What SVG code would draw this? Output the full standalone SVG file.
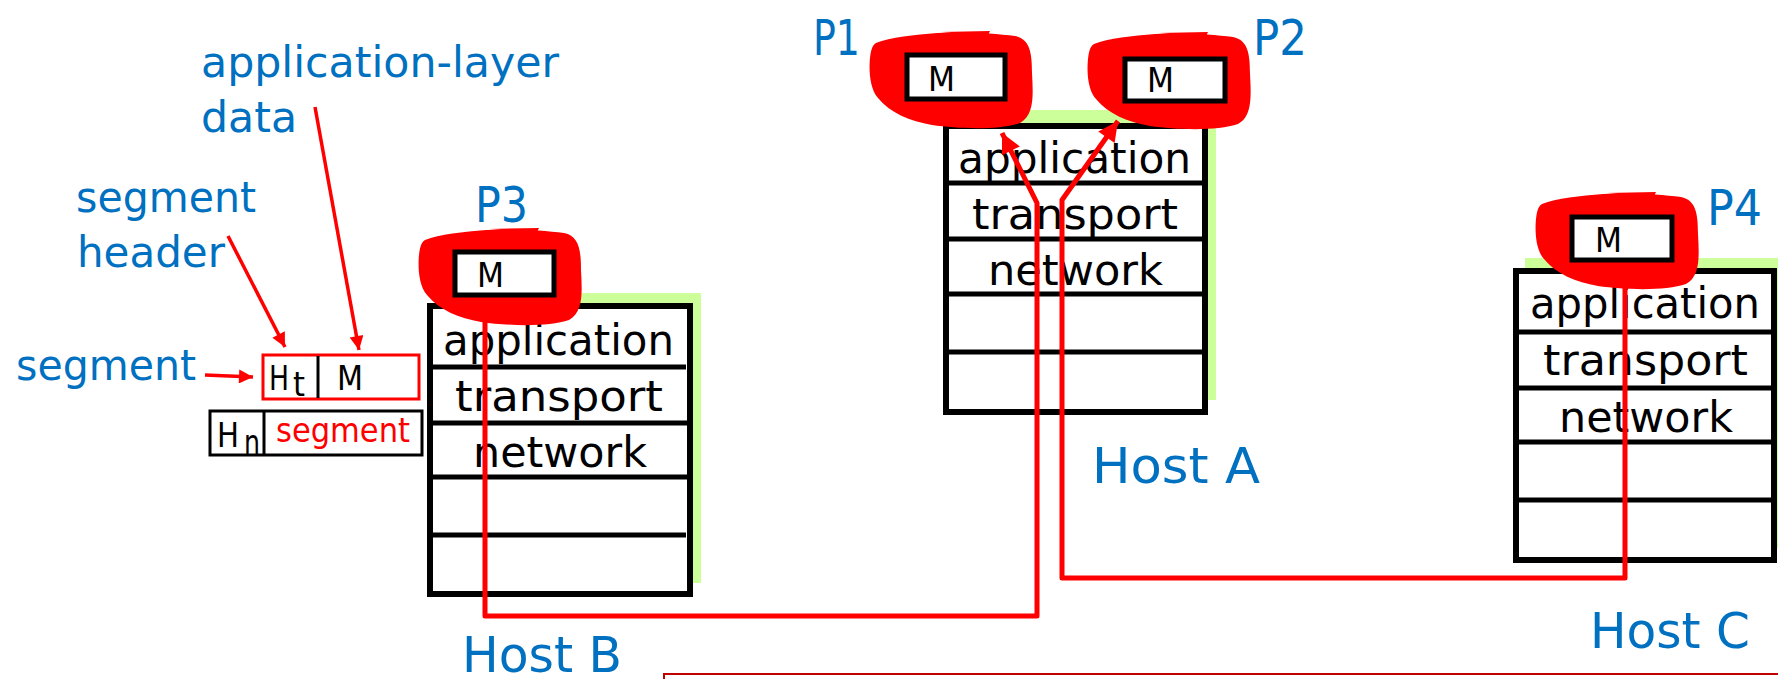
<svg xmlns="http://www.w3.org/2000/svg" xmlns:xlink="http://www.w3.org/1999/xlink" width="1778" height="679" viewBox="0 0 1778 679">
  <style>
    .lbl { font-family: "DejaVu Sans", "Liberation Sans", sans-serif; fill: #0070C0; font-size: 50px; }
    .note { font-family: "DejaVu Sans", "Liberation Sans", sans-serif; fill: #0070C0; font-size: 43px; }
    .layer { font-family: "DejaVu Sans", "Liberation Sans", sans-serif; fill: #000; font-size: 43px; }
    .msg { font-family: "DejaVu Sans", "Liberation Sans", sans-serif; fill: #000; font-size: 33px; }
    .frame { fill: #fff; stroke: #000; stroke-width: 6; }
    .shadow { fill: #CCFF99; }
    .sep { stroke: #000; stroke-width: 5; }
    .blob { fill: #FF0000; }
    .mbox { fill: #fff; stroke: #000; stroke-width: 5; }
    .flow { fill: none; stroke: #FF0000; stroke-width: 5; stroke-linejoin: round; }
    .pointer { fill: none; stroke: #FF0000; stroke-width: 3.5; }
  </style>
  <defs>
    <marker id="head" viewBox="0 0 10 10" refX="10" refY="5" markerWidth="5" markerHeight="4" orient="auto" markerUnits="strokeWidth">
      <path d="M0,0 L10,5 L0,10 z" fill="#FF0000"/>
    </marker>
    <!-- hand-drawn highlight round a message box, ~163 x 95 -->
    <path id="blob" d="M 6 10 C 20 4, 45 2, 67 0 C 95 -1, 125 0, 145 3 C 160 6, 162 20, 162 40 C 163 60, 165 82, 150 90 C 130 97, 90 96, 62 92 C 40 88, 20 80, 8 65 C -1 55, -1 35, 0 25 C 1 15, 3 12, 6 10 Z M 70 -1 L 120 -2 L 118 2 Z"/>
  </defs>

  <rect width="1778" height="679" fill="#fff"/>

  <!-- annotation labels -->
  <g id="annotations">
    <text class="note" x="201" y="77" textLength="358" lengthAdjust="spacingAndGlyphs">application-layer</text>
    <text class="note" x="201" y="132" textLength="96" lengthAdjust="spacingAndGlyphs">data</text>
    <text class="note" x="76" y="212" textLength="180" lengthAdjust="spacingAndGlyphs">segment</text>
    <text class="note" x="77" y="267" textLength="148" lengthAdjust="spacingAndGlyphs">header</text>
    <text class="note" x="16" y="380" textLength="180" lengthAdjust="spacingAndGlyphs">segment</text>
    <line class="pointer" x1="315" y1="107" x2="359" y2="350" marker-end="url(#head)"/>
    <line class="pointer" x1="228" y1="236" x2="285" y2="347" marker-end="url(#head)"/>
    <line class="pointer" x1="205" y1="375" x2="253" y2="377" marker-end="url(#head)"/>
  </g>

  <!-- transport segment: header + message -->
  <g id="segment">
    <rect x="263" y="355" width="156" height="44" fill="#fff" stroke="#FF0000" stroke-width="3"/>
    <line x1="318" y1="356" x2="318" y2="398" stroke="#000" stroke-width="3"/>
    <text class="msg" x="269" y="390" textLength="20" lengthAdjust="spacingAndGlyphs">H</text>
    <text class="msg" x="293" y="396" font-size="24" textLength="12" lengthAdjust="spacingAndGlyphs">t</text>
    <text class="msg" x="337" y="390" textLength="26" lengthAdjust="spacingAndGlyphs">M</text>
  </g>

  <!-- network datagram: header + segment -->
  <g id="datagram">
    <rect x="210" y="411" width="212" height="44" fill="#fff" stroke="#000" stroke-width="3"/>
    <line x1="264" y1="412" x2="264" y2="454" stroke="#000" stroke-width="3"/>
    <text class="msg" x="217" y="447" textLength="22" lengthAdjust="spacingAndGlyphs">H</text>
    <text class="msg" x="244" y="454" font-size="26" textLength="16" lengthAdjust="spacingAndGlyphs">n</text>
    <text class="msg" x="276" y="442" style="fill:#FF0000" textLength="134" lengthAdjust="spacingAndGlyphs">segment</text>
  </g>

  <!-- Host B -->
  <g id="host-b">
    <rect class="shadow" x="437" y="293" width="264" height="290"/>
    <rect class="frame" x="430" y="306" width="260" height="288"/>
    <line class="sep" x1="430" y1="367" x2="686" y2="367"/>
    <line class="sep" x1="430" y1="423" x2="688" y2="423"/>
    <line class="sep" x1="430" y1="477" x2="688" y2="477"/>
    <line class="sep" x1="430" y1="535" x2="686" y2="535"/>
    <text class="layer" x="443" y="355" textLength="231" lengthAdjust="spacingAndGlyphs">application</text>
    <text class="layer" x="455" y="411" textLength="208" lengthAdjust="spacingAndGlyphs">transport</text>
    <text class="layer" x="473" y="467" textLength="174" lengthAdjust="spacingAndGlyphs">network</text>
    <text class="lbl" x="462" y="672" textLength="160" lengthAdjust="spacingAndGlyphs">Host B</text>
  </g>

  <!-- Host A -->
  <g id="host-a">
    <rect class="shadow" x="953" y="110" width="263" height="290"/>
    <rect class="frame" x="946" y="126" width="259" height="286"/>
    <line class="sep" x1="946" y1="183" x2="1203" y2="183"/>
    <line class="sep" x1="946" y1="239" x2="1203" y2="239"/>
    <line class="sep" x1="946" y1="294" x2="1203" y2="294"/>
    <line class="sep" x1="946" y1="352" x2="1202" y2="352"/>
    <text class="layer" x="958" y="173" textLength="233" lengthAdjust="spacingAndGlyphs">application</text>
    <text class="layer" x="972" y="229" textLength="206" lengthAdjust="spacingAndGlyphs">transport</text>
    <text class="layer" x="988" y="285" textLength="175" lengthAdjust="spacingAndGlyphs">network</text>
    <text class="lbl" x="1092" y="483" textLength="168" lengthAdjust="spacingAndGlyphs">Host A</text>
  </g>

  <!-- Host C -->
  <g id="host-c">
    <rect class="shadow" x="1525" y="258" width="260" height="290"/>
    <rect class="frame" x="1516" y="271" width="258" height="289"/>
    <line class="sep" x1="1516" y1="332" x2="1772" y2="332"/>
    <line class="sep" x1="1516" y1="388" x2="1772" y2="388"/>
    <line class="sep" x1="1516" y1="442" x2="1772" y2="442"/>
    <line class="sep" x1="1516" y1="500" x2="1772" y2="500"/>
    <text class="layer" x="1530" y="318" textLength="230" lengthAdjust="spacingAndGlyphs">application</text>
    <text class="layer" x="1543" y="375" textLength="205" lengthAdjust="spacingAndGlyphs">transport</text>
    <text class="layer" x="1559" y="432" textLength="174" lengthAdjust="spacingAndGlyphs">network</text>
    <text class="lbl" x="1590" y="648" textLength="160" lengthAdjust="spacingAndGlyphs">Host C</text>
  </g>

  <!-- processes with their messages -->
  <g id="p3">
    <use xlink:href="#blob" href="#blob" class="blob" transform="translate(419,230)"/>
    <rect class="mbox" x="455" y="252" width="99" height="43"/>
    <text class="msg" x="477" y="287" textLength="27" lengthAdjust="spacingAndGlyphs">M</text>
    <text class="lbl" x="475" y="222" textLength="53" lengthAdjust="spacingAndGlyphs">P3</text>
  </g>
  <g id="p1">
    <use xlink:href="#blob" href="#blob" class="blob" transform="translate(870,33)"/>
    <rect class="mbox" x="907" y="55" width="98" height="44"/>
    <text class="msg" x="928" y="91" textLength="27" lengthAdjust="spacingAndGlyphs">M</text>
    <text class="lbl" x="813" y="55" textLength="47" lengthAdjust="spacingAndGlyphs">P1</text>
  </g>
  <g id="p2">
    <use xlink:href="#blob" href="#blob" class="blob" transform="translate(1088,34)"/>
    <rect class="mbox" x="1125" y="59" width="100" height="42"/>
    <text class="msg" x="1147" y="92" textLength="27" lengthAdjust="spacingAndGlyphs">M</text>
    <text class="lbl" x="1253" y="55" textLength="54" lengthAdjust="spacingAndGlyphs">P2</text>
  </g>
  <g id="p4">
    <use xlink:href="#blob" href="#blob" class="blob" transform="translate(1536,194)"/>
    <rect class="mbox" x="1572" y="217" width="100" height="43"/>
    <text class="msg" x="1595" y="252" textLength="27" lengthAdjust="spacingAndGlyphs">M</text>
    <text class="lbl" x="1707" y="225" textLength="55" lengthAdjust="spacingAndGlyphs">P4</text>
  </g>

  <!-- delivery paths -->
  <g id="connectors">
    <path class="flow" d="M 485 318 V 616 H 1037 V 203 L 1002 133" marker-end="url(#head)"/>
    <path class="flow" d="M 1625 285 V 578 H 1062 V 200 L 1118 121" marker-end="url(#head)"/>
  </g>

  <!-- frame edge at the bottom -->
  <path d="M 664 679 V 674 H 1778" fill="none" stroke="#C00000" stroke-width="2"/>
</svg>
